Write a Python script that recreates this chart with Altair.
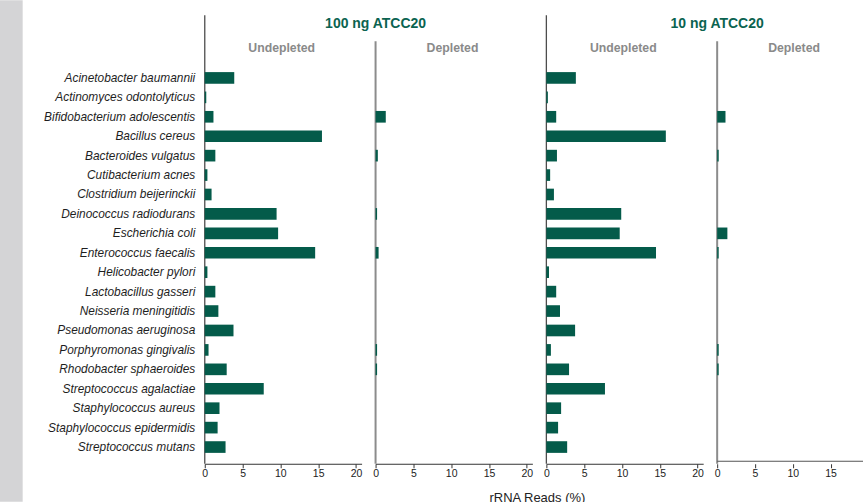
import altair as alt
import pandas as pd

# Species shown on the shared y axis (top to bottom)
species = [
    "Acinetobacter baumannii",
    "Actinomyces odontolyticus",
    "Bifidobacterium adolescentis",
    "Bacillus cereus",
    "Bacteroides vulgatus",
    "Cutibacterium acnes",
    "Clostridium beijerinckii",
    "Deinococcus radiodurans",
    "Escherichia coli",
    "Enterococcus faecalis",
    "Helicobacter pylori",
    "Lactobacillus gasseri",
    "Neisseria meningitidis",
    "Pseudomonas aeruginosa",
    "Porphyromonas gingivalis",
    "Rhodobacter sphaeroides",
    "Streptococcus agalactiae",
    "Staphylococcus aureus",
    "Staphylococcus epidermidis",
    "Streptococcus mutans",
]

# rRNA reads (%) per species
undepleted_100ng = [3.9, 0.2, 1.15, 15.5, 1.4, 0.35, 0.9, 9.5, 9.7, 14.6,
                    0.35, 1.4, 1.8, 3.8, 0.5, 2.9, 7.8, 1.95, 1.7, 2.75]
depleted_100ng = [0, 0, 1.35, 0, 0.3, 0, 0, 0.2, 0, 0.4,
                  0, 0, 0, 0, 0.2, 0.2, 0, 0, 0, 0]
undepleted_10ng = [3.9, 0.2, 1.3, 15.8, 1.4, 0.5, 1.0, 9.9, 9.7, 14.5,
                   0.35, 1.3, 1.8, 3.8, 0.6, 3.0, 7.75, 1.95, 1.55, 2.75]
depleted_10ng = [0, 0, 1.1, 0, 0.2, 0, 0, 0, 1.35, 0.2,
                 0, 0, 0, 0, 0.2, 0.2, 0, 0, 0, 0]

panel_titles = ["Undepleted", "Depleted", "Undepleted", "Depleted"]
group_titles = ["100 ng ATCC20", "10 ng ATCC20"]
tick_values = [0, 5, 10, 15, 20]
x_title = "rRNA Reads (%)"

BAR = "#045b4a"
GREEN_TEXT = "#0b6350"
FONT = "Liberation Sans"
PX_PER_UNIT = 7.57
H = 403
W = 157
W_LAST = 146

one = pd.DataFrame({"k": [0]})


def panel(values, width, ticks, subtitle, line_color, line_w, line_top,
          first=False, header=None, extra=None, last=False):
    df = pd.DataFrame({"species": species, "reads": values})
    y_axis = alt.Axis(
        title=None, ticks=False, domain=False, labelFontStyle="italic",
        labelFontSize=11.9, labelColor="#1e1e1e", labelPadding=10,
        labelLimit=300, labelFont=FONT,
    ) if first else None
    y = alt.Y("species:N", sort=species, axis=y_axis,
              scale=alt.Scale(paddingInner=0.4, paddingOuter=0.56))
    x = alt.X(
        "reads:Q",
        scale=alt.Scale(domain=[0, width / PX_PER_UNIT], nice=False, zero=True),
        axis=alt.Axis(values=ticks, title=None, grid=False, tickSize=4,
                      labelFontSize=10.5, labelColor="#222", labelPadding=1,
                      labelFlush=False, domain=not last, domainColor="#333",
                      tickColor="#333", labelFont=FONT),
    )
    layers = []
    if first:
        layers.append(
            alt.Chart(one).mark_rect(color="#d4d4d6").encode(
                x=alt.value(-205), x2=alt.value(-182.3),
                y=alt.value(-61), y2=alt.value(441))
        )
    layers.append(
        alt.Chart(one).mark_rule(color=line_color, strokeWidth=line_w).encode(
            x=alt.value(0), y=alt.value(line_top), y2=alt.value(H))
    )
    if last:
        layers.append(
            alt.Chart(one).mark_rule(color="#555", strokeWidth=1.2).encode(
                x=alt.value(0), x2=alt.value(width), y=alt.value(H - 2.5))
        )
    layers.append(alt.Chart(df).mark_bar(color=BAR).encode(x=x, y=y))
    layers.append(
        alt.Chart(one).mark_text(text=subtitle, font=FONT, fontWeight="bold",
                                 fontSize=12.3, color="#8a8a8a",
                                 baseline="alphabetic").encode(
            x=alt.value(77), y=alt.value(-9.3))
    )
    if header:
        layers.append(
            alt.Chart(one).mark_text(text=header, font=FONT, fontWeight="bold",
                                     fontSize=14, color=GREEN_TEXT,
                                     baseline="alphabetic").encode(
                x=alt.value(0), y=alt.value(-33.5))
        )
    if extra:
        layers.append(
            alt.Chart(one).mark_text(text=extra, font=FONT, fontSize=13,
                                     color="#222", baseline="alphabetic").encode(
                x=alt.value(162), y=alt.value(441.6))
        )
    return alt.layer(*layers).properties(width=width, height=H)


p1 = panel(undepleted_100ng, W, tick_values, panel_titles[0], "#4d4d4d", 1.3, -46, first=True)
p2 = panel(depleted_100ng, W, tick_values, panel_titles[1], "#8c8c8c", 2, -20,
           header=group_titles[0], extra=x_title)
p3 = panel(undepleted_10ng, W, tick_values, panel_titles[2], "#4d4d4d", 1.3, -46)
p4 = panel(depleted_10ng, W_LAST, tick_values[:4], panel_titles[3], "#8c8c8c", 2, -20,
           header=group_titles[1], last=True)

chart = (
    alt.hconcat(p1, p2, p3, p4, spacing=14, bounds="flush")
    .resolve_scale(x="independent")
    .properties(padding=0, background="white")
    .configure_view(stroke=None)
)

chart.save("out.html", embed_options={"renderer": "svg", "actions": False})
